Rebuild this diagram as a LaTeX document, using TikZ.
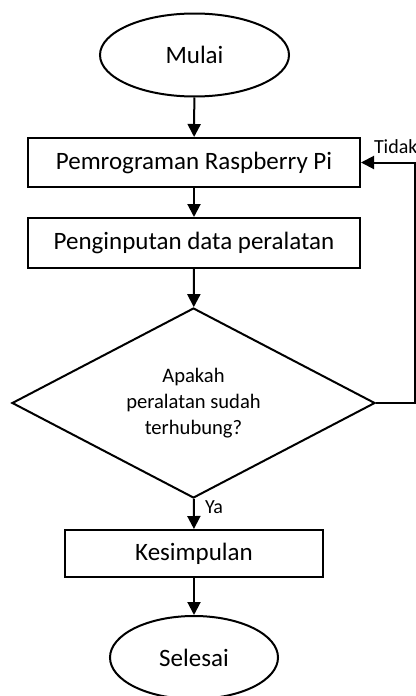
\documentclass[tikz,border=0pt]{standalone}
\usepackage{fontspec}
\setmainfont{Carlito}
\usetikzlibrary{shapes.geometric,arrows.meta}
\begin{document}
\begin{tikzpicture}[x=0.5pt,y=-0.5pt,line width=1pt,
    terminal/.style={draw,ellipse,inner sep=0pt,font=\fontsize{12.5}{15}\selectfont},
    proses/.style={draw,rectangle,inner sep=0pt,font=\fontsize{12.5}{15}\selectfont},
    keputusan/.style={draw,diamond,inner sep=0pt,aspect=1.91,align=center,font=\fontsize{10.3}{13}\selectfont},
    ket/.style={inner sep=0pt,font=\fontsize{10}{12}\selectfont},
    panah/.style={-{Triangle[length=6.5pt,width=6.5pt]}}]
  \useasboundingbox (0,0) rectangle (416,696);
  \draw
    (194.5,55) node[terminal,minimum width=94.5pt,minimum height=41.5pt] (mulai){Mulai}
    (194,162.5) node[proses,minimum width=166pt,minimum height=24.5pt] (prog){Pemrograman Raspberry Pi}
    (194,243) node[proses,minimum width=166pt,minimum height=25pt] (input){Penginputan data peralatan}
    (193.5,403) node[keputusan,minimum width=181.5pt,minimum height=95pt] (cek){Apakah\\peralatan sudah\\terhubung?}
    (194,553.5) node[proses,minimum width=129pt,minimum height=23.5pt] (simpul){Kesimpulan}
    (194,657.5) node[terminal,minimum width=84pt,minimum height=41.5pt] (selesai){Selesai};
  \coordinate (sudut) at (415,403);
  \node[ket,anchor=west] (tidak) at (373,147) {Tidak};
  \node[ket,anchor=west] (ya) at (204,507) {Ya};
  \begin{scope}[panah]
    \draw (mulai) to (prog);
    \draw (prog) to (input);
    \draw (input) to (cek);
    \draw (cek) to (simpul);
    \draw (simpul) to (selesai);
    \draw (cek.east) -- (sudut) |- (prog.east);
  \end{scope}
\end{tikzpicture}
\end{document}
